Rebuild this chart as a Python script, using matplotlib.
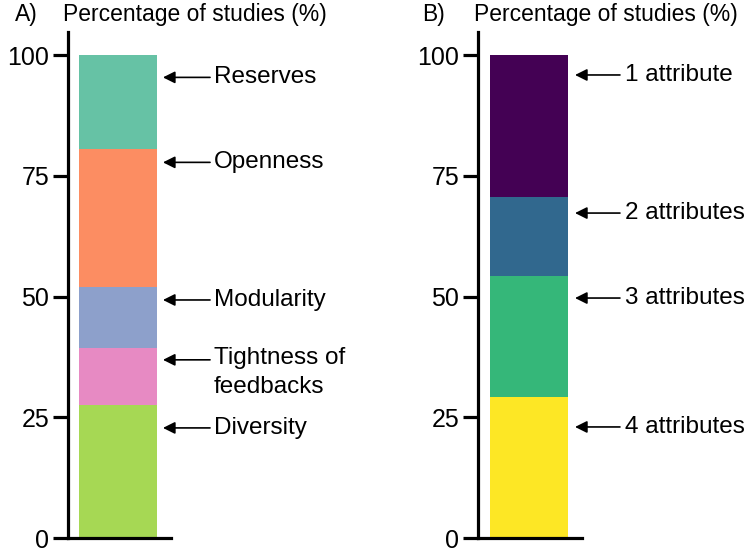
import matplotlib.pyplot as plt

plt.rcParams['font.family'] = ['Liberation Sans', 'DejaVu Sans']

# panel A: resilience attributes (bottom to top)
attr_names = ['Diversity', 'Tightness of\nfeedbacks', 'Modularity', 'Openness', 'Reserves']
attr_vals = [27.5, 11.8, 12.7, 28.6, 19.4]
attr_cols = ['#a6d854', '#e78ac3', '#8da0cb', '#fc8d62', '#66c2a5']
attr_arrow_y = [22.8, 36.9, 49.3, 77.8, 95.4]

# panel B: number of attributes (bottom to top)
n_names = ['4 attributes', '3 attributes', '2 attributes', '1 attribute']
n_vals = [29.2, 25.0, 16.4, 29.4]
n_cols = ['#fde725', '#35b779', '#31688e', '#440154']
n_arrow_y = [23.0, 49.7, 67.3, 95.9]

yticks = [0, 25, 50, 75, 100]

fig = plt.figure(figsize=(7.49, 5.51), dpi=100)


def panel(rect, names, vals, cols, arrow_y, bar_l, bar_r, head_x, tail_x, text_x):
    ax = fig.add_axes(rect)
    bottom = 0
    for v, c in zip(vals, cols):
        ax.bar((bar_l + bar_r) / 2, v, width=bar_r - bar_l, bottom=bottom, color=c)
        bottom += v
    ax.set_xlim(0, 1)
    ax.set_ylim(0, 104.8)
    ax.set_yticks(yticks)
    ax.set_xticks([])
    for s in ['top', 'right']:
        ax.spines[s].set_visible(False)
    for s in ['left', 'bottom']:
        ax.spines[s].set_linewidth(2.3)
    ax.tick_params(axis='y', length=10.5, width=2.3, labelsize=18, pad=3)
    for name, y in zip(names, arrow_y):
        ax.annotate('', xy=(head_x, y), xytext=(tail_x, y),
                    arrowprops=dict(arrowstyle='-|>', color='black', lw=1.2,
                                    mutation_scale=18, shrinkA=0, shrinkB=0),
                    annotation_clip=False)
        if '\n' in name:
            ax.annotate(name, xy=(text_x, y), xytext=(0, 9), textcoords='offset points',
                        va='top', ha='left', fontsize=17.5, linespacing=1.42,
                        annotation_clip=False)
        else:
            ax.text(text_x, y, name, va='center', ha='left', fontsize=17.5, clip_on=False)
    return ax


panel([68 / 749, 13 / 551, 103 / 749, 506 / 551], attr_names, attr_vals, attr_cols,
      attr_arrow_y, 0.107, 0.864, 0.922, 1.379, 1.417)
panel([478 / 749, 13 / 551, 104 / 749, 506 / 551], n_names, n_vals, n_cols,
      n_arrow_y, 0.115, 0.865, 0.933, 1.365, 1.413)

fig.text(15 / 749, 1 - 14 / 551, 'A)', fontsize=16.5, va='center', ha='left')
fig.text(63 / 749, 1 - 14 / 551, 'Percentage of studies (%)', fontsize=16.5, va='center', ha='left')
fig.text(422 / 749, 1 - 14 / 551, 'B)', fontsize=16.5, va='center', ha='left')
fig.text(474 / 749, 1 - 14 / 551, 'Percentage of studies (%)', fontsize=16.5, va='center', ha='left')

fig.savefig('out.png', dpi=100)
